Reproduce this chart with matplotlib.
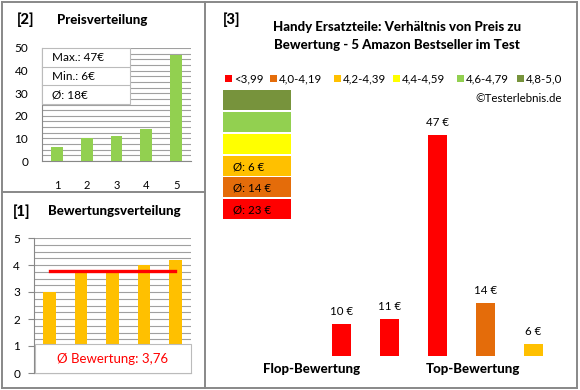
import matplotlib
matplotlib.use("Agg")
import matplotlib.pyplot as plt
from matplotlib.patches import Rectangle
from matplotlib.lines import Line2D

# ---------------- data ----------------
price_positions = [1, 2, 3, 4, 5]
price_values = [6, 10, 11, 14, 47]
price_ticks = [0, 10, 20, 30, 40, 50]
price_info = ["Max.: 47€", "Min.: 6€", "Ø: 18€"]

rating_positions = [1, 2, 3, 4, 5]
rating_values = [3.0, 3.7, 3.7, 4.0, 4.2]
rating_ticks = [0, 1, 2, 3, 4, 5]
rating_avg = 3.76
rating_avg_label = "Ø Bewertung: 3,76"

legend_labels = ["<3,99", "4,0-4,19", "4,2-4,39", "4,4-4,59", "4,6-4,79", "4,8-5,0"]
legend_colors = ["#FF0000", "#E46C0A", "#FFC000", "#FFFF00", "#92D050", "#77933C"]

main_positions = [1, 2, 3, 4, 5]
main_prices = [10, 11, 47, 14, 6]
main_classes = ["<3,99", "<3,99", "<3,99", "4,0-4,19", "4,2-4,39"]

# class averages shown in the stacked boxes (top to bottom order of the boxes)
box_classes = ["4,8-5,0", "4,6-4,79", "4,4-4,59", "4,2-4,39", "4,0-4,19", "<3,99"]
box_avgs = [None, None, None, 6, 14, 23]

title3 = "Handy Ersatzteile: Verhältnis von Preis zu\nBewertung - 5 Amazon Bestseller im Test"

# ---------------- setup ----------------
FONT = ["Lato", "DejaVu Sans"]
plt.rcParams["font.family"] = FONT
W, H = 580, 390
fig = plt.figure(figsize=(W / 100, H / 100), dpi=100)
fig.patch.set_facecolor("white")
GRAY = "#888888"
GRID = "#A0A0A0"
HEAVY = 900


def fx(x):
    return x / W


def fy(y):
    return 1 - y / H


def ax_px(l, t, r, b):
    return fig.add_axes([fx(l), fy(b), (r - l) / W, (b - t) / H])


def txt(x, y, s, **kw):
    kw.setdefault("va", "center")
    fig.text(fx(x), fy(y), s, **kw)


color_of = dict(zip(legend_labels, legend_colors))

# ---------------- frame ----------------
for (x0, y0, x1, y1) in [(1.5, 2, 577, 2), (1.5, 388, 577, 388), (1.5, 2, 1.5, 388),
                         (577, 2, 577, 388), (205, 2, 205, 388), (1.5, 192, 205, 192)]:
    fig.add_artist(Line2D([fx(x0), fx(x1)], [fy(y0), fy(y1)], color=GRAY, lw=1.4))

# ---------------- panel [2] Preisverteilung ----------------
ax2 = ax_px(42, 48, 191, 161)
ax2.bar(price_positions, price_values, width=0.4, color="#92D050", zorder=3)
ax2.set_xlim(0.5, 5.5)
ax2.set_ylim(0, 50)
ax2.set_yticks(price_ticks)
ax2.set_yticks([v / 4 for v in range(0, 201, 10)], minor=True)
ax2.grid(axis="y", which="both", color=GRID, lw=0.8, zorder=0)
ax2.set_xticks(price_positions)
ax2.tick_params(axis="x", length=0, pad=14, labelsize=8)
ax2.tick_params(axis="y", which="both", length=0, pad=10, labelsize=8.5)
for s in ["top", "right"]:
    ax2.spines[s].set_visible(False)
for s in ["left", "bottom"]:
    ax2.spines[s].set_color(GRAY)
txt(17, 20, "[2]", fontsize=10.5, fontweight=HEAVY)
txt(57, 20, "Preisverteilung", fontsize=9.5, fontweight=HEAVY)

# info box
bx0, by0, bx1, by1 = 42, 48, 130, 104
fig.add_artist(Rectangle((fx(bx0), fy(by1)), (bx1 - bx0) / W, (by1 - by0) / H,
                         facecolor="white", edgecolor="#BBBBBB", lw=0.8, zorder=5))
rows = len(price_info)
rh = (by1 - by0) / rows
for i, s in enumerate(price_info):
    if i > 0:
        fig.add_artist(Line2D([fx(bx0), fx(bx1)], [fy(by0 + i * rh)] * 2, color="#BBBBBB",
                              lw=0.8, zorder=6))
    txt(52, by0 + (i + 0.5) * rh, s, fontsize=8.5, zorder=7)

# ---------------- panel [1] Bewertungsverteilung ----------------
ax1 = ax_px(34, 238, 191, 373)
ax1.bar(rating_positions, rating_values, width=0.4, color="#FFC000", zorder=3)
ax1.plot([rating_positions[0], rating_positions[-1]], [rating_avg] * 2, color="#FF0000",
         lw=2.4, zorder=4)
ax1.set_xlim(0.5, 5.5)
ax1.set_ylim(0, 5)
ax1.set_yticks(rating_ticks)
ax1.set_yticks([v / 4 for v in range(0, 21)], minor=True)
ax1.grid(axis="y", which="both", color=GRID, lw=0.8, zorder=0)
ax1.set_xticks([])
ax1.tick_params(axis="y", which="major", length=4, color=GRAY, pad=6, labelsize=8.5)
ax1.tick_params(axis="y", which="minor", length=0)
for s in ["top", "right"]:
    ax1.spines[s].set_visible(False)
for s in ["left", "bottom"]:
    ax1.spines[s].set_color(GRAY)
txt(13, 212, "[1]", fontsize=10.5, fontweight=HEAVY)
txt(48, 211, "Bewertungsverteilung", fontsize=9.5, fontweight=HEAVY)

fig.add_artist(Rectangle((fx(35), fy(373)), (191 - 35) / W, (373 - 344) / H,
                         facecolor="white", edgecolor="#BBBBBB", lw=0.8, zorder=5))
txt(113, 359, rating_avg_label, fontsize=9.5, color="#FF0000", ha="center", zorder=7)

# ---------------- panel [3] ----------------
txt(223, 20, "[3]", fontsize=10.5, fontweight=HEAVY)
txt(397, 36, title3, fontsize=9.5, fontweight=HEAVY, ha="center", linespacing=1.55)

# legend
leg_x = [228, 273, 337, 396, 460, 520]
for x, lab, col in zip(leg_x, legend_labels, legend_colors):
    fig.add_artist(Rectangle((fx(x - 3.5), fy(82)), 7 / W, 7 / H, facecolor=col,
                             edgecolor="none"))
    txt(x + 6, 78.5, lab, fontsize=8.3)
txt(562, 98, "©Testerlebnis.de", fontsize=8.3, ha="right")

# stacked colour boxes
box_tops = [90, 112, 134, 156, 177, 199]
for top, cls, avg in zip(box_tops, box_classes, box_avgs):
    fig.add_artist(Rectangle((fx(223), fy(top + 20)), (291 - 223) / W, 20 / H,
                             facecolor=color_of[cls], edgecolor="none"))
    if avg is not None:
        txt(233, top + 10.5, f"Ø: {avg} €", fontsize=8.3)

# main bars
ax3 = ax_px(220, 100, 565, 356)
ax3.bar(main_positions, main_prices, width=0.4,
        color=[color_of[c] for c in main_classes])
ax3.set_xlim(-1.531, 5.656)
ax3.set_ylim(3.65, 3.65 + 256 / 5.1)
ax3.axis("off")
for x, v in zip(main_positions, main_prices):
    ax3.annotate(f"{v} €", (x, v), xytext=(0, 9), textcoords="offset points",
                 ha="center", va="center", fontsize=8.3)
txt(312, 369, "Flop-Bewertung", fontsize=9.5, fontweight=HEAVY, ha="center")
txt(473, 369, "Top-Bewertung", fontsize=9.5, fontweight=HEAVY, ha="center")

fig.savefig("out.png", dpi=100, facecolor="white")
